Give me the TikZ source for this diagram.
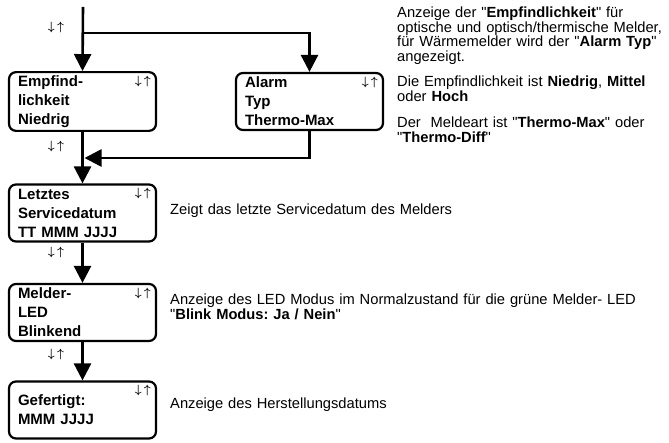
\documentclass[tikz,border=0pt]{standalone}
\usepackage{fontspec}
\setmainfont{Liberation Sans}[Ligatures=TeXOff]
\usetikzlibrary{arrows.meta}
\frenchspacing
\newcommand{\hochrunter}{{\boldmath$\downarrow\mkern3mu\uparrow$}}

\begin{document}
\begin{tikzpicture}[x=1pt, y=-1pt,
		box/.style={rectangle, draw, line width=2.2pt, rounded corners=7pt,
			minimum width=147pt, minimum height=57pt, text width=129pt, inner xsep=9pt,
			align=left, font=\fontsize{15}{19}\selectfont\bfseries,
			label={[anchor=north east, inner sep=0pt, xshift=-6pt, yshift=-5pt,
				font=\fontsize{12.5}{12.5}\selectfont]north east:\hochrunter}},
		pf/.style={-{Triangle[width=17pt, length=17pt]}, line width=2.6pt},
		txt/.style={anchor=base west, inner sep=0pt, text width=495pt, align=left,
			font=\fontsize{14.7}{14.5}\selectfont},
		ud/.style={inner sep=0pt, font=\fontsize{12.5}{12.5}\selectfont},
		]
		\useasboundingbox (0, 0) rectangle (669, 443);
		
		\coordinate	(start)	at	(83, 7);
		\coordinate	(abzw)	at	(83, 33);
		\coordinate	(zus)	at	(84.5, 158);
		
		\node[box]	(empf)	at	(82.5, 101.5)	{Empfind-\\lichkeit\\Niedrig};
		\node[box]	(alarm)	at	(309.5, 101.5)	{Alarm\\Typ\\Thermo-Max};
		\node[box]	(serv)	at	(82.5, 213)		{Letztes\\Servicedatum\\TT MMM JJJJ};
		\node[box]	(led)	at	(82.5, 312.5)	{Melder-\\LED\\Blinkend};
		\node[box]	(herst)	at	(82.5, 410)		{Gefertigt:\\MMM JJJJ};
		
		\node[ud]	(ud0)	at	(56, 28)		{\hochrunter};
		\node[ud]	(ud1)	at	(56, 147)		{\hochrunter};
		\node[ud]	(ud2)	at	(56, 253)		{\hochrunter};
		\node[ud]	(ud3)	at	(56, 355)		{\hochrunter};
		
		\draw[pf]	(start)			--	(empf.north);
		\draw[pf]	(abzw)			-|	(alarm.north);
		\draw[pf]	(empf)			--	(serv);
		\draw[pf]	(alarm.south)	|-	(zus);
		\draw[pf]	(serv)			--	(led);
		\draw[pf]	(led)			--	(herst);
		
		% Erklaerungen
		\node[txt]	(info1)	at	(397, 18)	{Anzeige der "\textbf{Empfindlichkeit}" für\\
			optische und optisch/thermische Melder,\\
			für Wärmemelder wird der "\textbf{Alarm Typ}"\\
			angezeigt.};
		\node[txt]	(info2)	at	(397, 87)	{Die Empfindlichkeit ist \textbf{Niedrig}, \textbf{Mittel}\\
			oder \textbf{Hoch}};
		\node[txt]	(info3)	at	(397, 128)	{Der\ \ Meldeart ist "\textbf{Thermo-Max}" oder\\
			"\textbf{Thermo-Diff}"};
		\node[txt]	(info4)	at	(170, 215)	{Zeigt das letzte Servicedatum des Melders};
		\node[txt]	(info5)	at	(170, 305)	{Anzeige des LED Modus im Normalzustand für die grüne Melder- LED\\
			"\textbf{Blink Modus: Ja / Nein}"};
		\node[txt]	(info6)	at	(170, 408)	{Anzeige des Herstellungsdatums};
\end{tikzpicture}
\end{document}
